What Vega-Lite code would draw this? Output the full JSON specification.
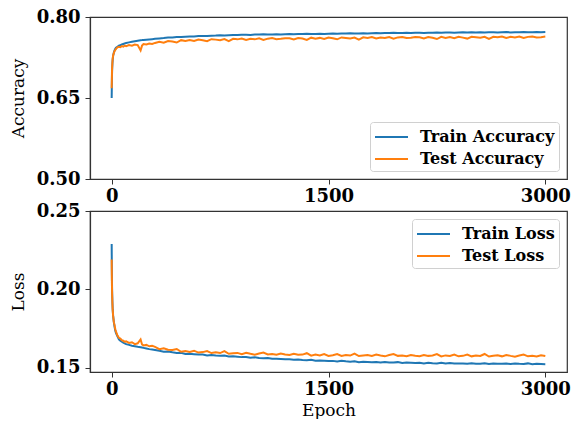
{
"$schema": "https://vega.github.io/schema/vega-lite/v6.json",
"padding": {"left": 8, "top": 7, "right": 0, "bottom": 0},
"autosize": {"type": "pad"},
"background": "white",
"config": {
  "view": {"stroke": "#333", "strokeWidth": 1.2},
  "axis": {"labelFont": "DejaVu Serif", "labelFontWeight": "bold", "labelFontSize": 18, "labelColor": "#000", "titleFont": "DejaVu Serif", "titleFontWeight": "normal", "titleFontSize": 17, "titleColor": "#000", "grid": false, "domainColor": "#333", "domainWidth": 1.2, "tickColor": "#333", "tickSize": 5, "labelPadding": 5},
  "legend": {"labelFont": "DejaVu Serif", "labelFontWeight": "bold", "labelFontSize": 16, "labelColor": "#000", "strokeColor": "#d0d0d0", "fillColor": "white", "cornerRadius": 3, "padding": 4, "symbolType": "M-1,0H2.3", "symbolStrokeWidth": 2, "symbolSize": 400, "rowPadding": 3, "labelOffset": 24, "offset": 8, "title": null}
},
"datasets": {"d": [
{"e":0,"ta":0.650,"va":0.668,"tl":0.229,"vl":0.219},
{"e":1,"ta":0.672,"va":0.680,"tl":0.214,"vl":0.209},
{"e":2,"ta":0.690,"va":0.697,"tl":0.205,"vl":0.202},
{"e":3,"ta":0.701,"va":0.706,"tl":0.199,"vl":0.197},
{"e":5,"ta":0.713,"va":0.716,"tl":0.192,"vl":0.191},
{"e":7,"ta":0.721,"va":0.723,"tl":0.187,"vl":0.187},
{"e":10,"ta":0.728,"va":0.729,"tl":0.183,"vl":0.183},
{"e":15,"ta":0.734,"va":0.733,"tl":0.179,"vl":0.179},
{"e":20,"ta":0.738,"va":0.737,"tl":0.176,"vl":0.177},
{"e":25,"ta":0.741,"va":0.739,"tl":0.1735,"vl":0.1745},
{"e":30,"ta":0.743,"va":0.741,"tl":0.172,"vl":0.173},
{"e":40,"ta":0.745,"va":0.744,"tl":0.170,"vl":0.1705},
{"e":50,"ta":0.747,"va":0.745,"tl":0.168,"vl":0.169},
{"e":60,"ta":0.748,"va":0.744,"tl":0.1672,"vl":0.1685},
{"e":70,"ta":0.749,"va":0.746,"tl":0.1665,"vl":0.1675},
{"e":80,"ta":0.750,"va":0.745,"tl":0.166,"vl":0.1672},
{"e":90,"ta":0.751,"va":0.747,"tl":0.1655,"vl":0.1665},
{"e":100,"ta":0.752,"va":0.746,"tl":0.165,"vl":0.1668},
{"e":120,"ta":0.753,"va":0.748,"tl":0.1645,"vl":0.1658},
{"e":140,"ta":0.754,"va":0.747,"tl":0.164,"vl":0.1662},
{"e":160,"ta":0.755,"va":0.749,"tl":0.1637,"vl":0.1650},
{"e":180,"ta":0.756,"va":0.748,"tl":0.1633,"vl":0.1655},
{"e":200,"ta":0.757,"va":0.738,"tl":0.163,"vl":0.1680},
{"e":210,"ta":0.7572,"va":0.747,"tl":0.1628,"vl":0.1648},
{"e":220,"ta":0.7575,"va":0.750,"tl":0.1626,"vl":0.1642},
{"e":240,"ta":0.758,"va":0.749,"tl":0.1622,"vl":0.1645},
{"e":260,"ta":0.7585,"va":0.751,"tl":0.1618,"vl":0.1636},
{"e":280,"ta":0.759,"va":0.750,"tl":0.1615,"vl":0.1640},
{"e":300,"ta":0.7595,"va":0.752,"tl":0.1612,"vl":0.1632},
{"e":330,"ta":0.7603,"va":0.7541,"tl":0.1608,"vl":0.1618},
{"e":360,"ta":0.7609,"va":0.7524,"tl":0.1602,"vl":0.1623},
{"e":390,"ta":0.7619,"va":0.7556,"tl":0.1603,"vl":0.1614},
{"e":420,"ta":0.7622,"va":0.7548,"tl":0.1598,"vl":0.1613},
{"e":450,"ta":0.7630,"va":0.7527,"tl":0.1594,"vl":0.1619},
{"e":480,"ta":0.7629,"va":0.7571,"tl":0.1595,"vl":0.1601},
{"e":510,"ta":0.7635,"va":0.7555,"tl":0.1587,"vl":0.1606},
{"e":540,"ta":0.7641,"va":0.7574,"tl":0.1589,"vl":0.1600},
{"e":570,"ta":0.7639,"va":0.7556,"tl":0.1586,"vl":0.1608},
{"e":600,"ta":0.7646,"va":0.7583,"tl":0.1583,"vl":0.1596},
{"e":630,"ta":0.7650,"va":0.7569,"tl":0.1583,"vl":0.1599},
{"e":660,"ta":0.7648,"va":0.7553,"tl":0.1578,"vl":0.1606},
{"e":690,"ta":0.7655,"va":0.7589,"tl":0.1581,"vl":0.1593},
{"e":720,"ta":0.7656,"va":0.7581,"tl":0.1577,"vl":0.1598},
{"e":750,"ta":0.7662,"va":0.7571,"tl":0.1575,"vl":0.1593},
{"e":780,"ta":0.7659,"va":0.7590,"tl":0.1577,"vl":0.1605},
{"e":810,"ta":0.7663,"va":0.7554,"tl":0.1571,"vl":0.1588},
{"e":840,"ta":0.7668,"va":0.7595,"tl":0.1572,"vl":0.1592},
{"e":870,"ta":0.7665,"va":0.7586,"tl":0.1570,"vl":0.1594},
{"e":900,"ta":0.7671,"va":0.7602,"tl":0.1567,"vl":0.1586},
{"e":930,"ta":0.7673,"va":0.7576,"tl":0.1568,"vl":0.1595},
{"e":960,"ta":0.7669,"va":0.7595,"tl":0.1563,"vl":0.1588},
{"e":990,"ta":0.7675,"va":0.7586,"tl":0.1566,"vl":0.1583},
{"e":1020,"ta":0.7674,"va":0.7604,"tl":0.1562,"vl":0.1590},
{"e":1050,"ta":0.7679,"va":0.7576,"tl":0.1560,"vl":0.1596},
{"e":1080,"ta":0.7675,"va":0.7599,"tl":0.1562,"vl":0.1584},
{"e":1110,"ta":0.7678,"va":0.7609,"tl":0.1556,"vl":0.1587},
{"e":1140,"ta":0.7682,"va":0.7590,"tl":0.1557,"vl":0.1582},
{"e":1170,"ta":0.7678,"va":0.7598,"tl":0.1555,"vl":0.1590},
{"e":1200,"ta":0.7682,"va":0.7608,"tl":0.1553,"vl":0.1584},
{"e":1230,"ta":0.7684,"va":0.7607,"tl":0.1554,"vl":0.1581},
{"e":1260,"ta":0.7680,"va":0.7585,"tl":0.1550,"vl":0.1588},
{"e":1290,"ta":0.7685,"va":0.7612,"tl":0.1552,"vl":0.1582},
{"e":1320,"ta":0.7684,"va":0.7600,"tl":0.1549,"vl":0.1583},
{"e":1350,"ta":0.7689,"va":0.7576,"tl":0.1547,"vl":0.1592},
{"e":1380,"ta":0.7685,"va":0.7617,"tl":0.1550,"vl":0.1576},
{"e":1410,"ta":0.7687,"va":0.7597,"tl":0.1544,"vl":0.1583},
{"e":1440,"ta":0.7690,"va":0.7613,"tl":0.1546,"vl":0.1578},
{"e":1470,"ta":0.7686,"va":0.7594,"tl":0.1544,"vl":0.1587},
{"e":1500,"ta":0.7691,"va":0.7620,"tl":0.1542,"vl":0.1575},
{"e":1530,"ta":0.7693,"va":0.7605,"tl":0.1543,"vl":0.1579},
{"e":1560,"ta":0.7689,"va":0.7587,"tl":0.1539,"vl":0.1587},
{"e":1590,"ta":0.7694,"va":0.7622,"tl":0.1543,"vl":0.1575},
{"e":1620,"ta":0.7693,"va":0.7612,"tl":0.1540,"vl":0.1581},
{"e":1650,"ta":0.7698,"va":0.7601,"tl":0.1538,"vl":0.1577},
{"e":1680,"ta":0.7693,"va":0.7620,"tl":0.1541,"vl":0.1590},
{"e":1710,"ta":0.7696,"va":0.7582,"tl":0.1535,"vl":0.1574},
{"e":1740,"ta":0.7699,"va":0.7623,"tl":0.1538,"vl":0.1578},
{"e":1770,"ta":0.7695,"va":0.7612,"tl":0.1536,"vl":0.1581},
{"e":1800,"ta":0.7700,"va":0.7628,"tl":0.1534,"vl":0.1574},
{"e":1830,"ta":0.7702,"va":0.7602,"tl":0.1536,"vl":0.1583},
{"e":1860,"ta":0.7698,"va":0.7620,"tl":0.1532,"vl":0.1577},
{"e":1890,"ta":0.7703,"va":0.7610,"tl":0.1536,"vl":0.1572},
{"e":1920,"ta":0.7702,"va":0.7627,"tl":0.1533,"vl":0.1580},
{"e":1950,"ta":0.7707,"va":0.7599,"tl":0.1532,"vl":0.1586},
{"e":1980,"ta":0.7702,"va":0.7622,"tl":0.1535,"vl":0.1575},
{"e":2010,"ta":0.7705,"va":0.7631,"tl":0.1530,"vl":0.1577},
{"e":2040,"ta":0.7708,"va":0.7610,"tl":0.1532,"vl":0.1573},
{"e":2070,"ta":0.7703,"va":0.7617,"tl":0.1531,"vl":0.1581},
{"e":2100,"ta":0.7708,"va":0.7628,"tl":0.1529,"vl":0.1576},
{"e":2130,"ta":0.7710,"va":0.7626,"tl":0.1531,"vl":0.1573},
{"e":2160,"ta":0.7705,"va":0.7604,"tl":0.1527,"vl":0.1581},
{"e":2190,"ta":0.7710,"va":0.7630,"tl":0.1531,"vl":0.1575},
{"e":2220,"ta":0.7708,"va":0.7617,"tl":0.1528,"vl":0.1577},
{"e":2250,"ta":0.7713,"va":0.7592,"tl":0.1527,"vl":0.1586},
{"e":2280,"ta":0.7709,"va":0.7633,"tl":0.1531,"vl":0.1571},
{"e":2310,"ta":0.7711,"va":0.7613,"tl":0.1526,"vl":0.1578},
{"e":2340,"ta":0.7714,"va":0.7629,"tl":0.1529,"vl":0.1574},
{"e":2370,"ta":0.7709,"va":0.7609,"tl":0.1527,"vl":0.1583},
{"e":2400,"ta":0.7714,"va":0.7634,"tl":0.1526,"vl":0.1572},
{"e":2430,"ta":0.7716,"va":0.7618,"tl":0.1527,"vl":0.1575},
{"e":2460,"ta":0.7711,"va":0.7600,"tl":0.1524,"vl":0.1583},
{"e":2490,"ta":0.7716,"va":0.7635,"tl":0.1528,"vl":0.1572},
{"e":2520,"ta":0.7714,"va":0.7625,"tl":0.1525,"vl":0.1578},
{"e":2550,"ta":0.7719,"va":0.7614,"tl":0.1524,"vl":0.1574},
{"e":2580,"ta":0.7714,"va":0.7633,"tl":0.1528,"vl":0.1587},
{"e":2610,"ta":0.7716,"va":0.7594,"tl":0.1523,"vl":0.1571},
{"e":2640,"ta":0.7719,"va":0.7634,"tl":0.1526,"vl":0.1576},
{"e":2670,"ta":0.7714,"va":0.7624,"tl":0.1525,"vl":0.1579},
{"e":2700,"ta":0.7718,"va":0.7639,"tl":0.1524,"vl":0.1572},
{"e":2730,"ta":0.7720,"va":0.7613,"tl":0.1526,"vl":0.1581},
{"e":2760,"ta":0.7715,"va":0.7632,"tl":0.1523,"vl":0.1575},
{"e":2790,"ta":0.7719,"va":0.7621,"tl":0.1527,"vl":0.1570},
{"e":2820,"ta":0.7717,"va":0.7638,"tl":0.1524,"vl":0.1577},
{"e":2850,"ta":0.7722,"va":0.7610,"tl":0.1523,"vl":0.1583},
{"e":2880,"ta":0.7717,"va":0.7632,"tl":0.1527,"vl":0.1572},
{"e":2910,"ta":0.7719,"va":0.7640,"tl":0.1522,"vl":0.1575},
{"e":2940,"ta":0.7722,"va":0.7620,"tl":0.1524,"vl":0.1571},
{"e":2970,"ta":0.7717,"va":0.7627,"tl":0.1523,"vl":0.1579},
{"e":3000,"ta":0.7721,"va":0.7637,"tl":0.1522,"vl":0.1574}
]},
"spacing": 32,
"bounds": "flush",
"resolve": {"scale": {"color": "independent"}, "legend": {"color": "independent"}},
"vconcat": [
  {
    "width": 477, "height": 162,
    "data": {"name": "d"},
    "transform": [{"fold": ["ta", "va"], "as": ["k", "v"]}],
    "mark": {"type": "line", "strokeWidth": 2, "clip": true},
    "encoding": {
      "x": {"field": "e", "type": "quantitative", "scale": {"domain": [-150, 3150], "nice": false, "zero": false}, "axis": {"values": [0, 1500, 3000], "format": "d", "title": null, "labelPadding": 3}},
      "y": {"field": "v", "type": "quantitative", "scale": {"domain": [0.5, 0.8], "nice": false, "zero": false}, "axis": {"values": [0.5, 0.65, 0.8], "format": ".2f", "title": "Accuracy", "titlePadding": 9}},
      "color": {"field": "k", "type": "nominal", "scale": {"domain": ["ta", "va"], "range": ["#1f77b4", "#ff7f0e"]}, "legend": {"orient": "bottom-right", "labelExpr": "datum.label == 'ta' ? 'Train Accuracy' : 'Test Accuracy'"}}
    }
  },
  {
    "width": 477, "height": 161,
    "data": {"name": "d"},
    "transform": [{"fold": ["tl", "vl"], "as": ["k", "v"]}],
    "mark": {"type": "line", "strokeWidth": 2, "clip": true},
    "encoding": {
      "x": {"field": "e", "type": "quantitative", "scale": {"domain": [-150, 3150], "nice": false, "zero": false}, "axis": {"values": [0, 1500, 3000], "format": "d", "title": "Epoch", "labelPadding": 3, "titlePadding": 4}},
      "y": {"field": "v", "type": "quantitative", "scale": {"domain": [0.1472, 0.25], "nice": false, "zero": false}, "axis": {"values": [0.15, 0.2, 0.25], "format": ".2f", "title": "Loss", "titlePadding": 9}},
      "color": {"field": "k", "type": "nominal", "scale": {"domain": ["tl", "vl"], "range": ["#1f77b4", "#ff7f0e"]}, "legend": {"orient": "top-right", "labelExpr": "datum.label == 'tl' ? 'Train Loss' : 'Test Loss'"}}
    }
  }
]
}
